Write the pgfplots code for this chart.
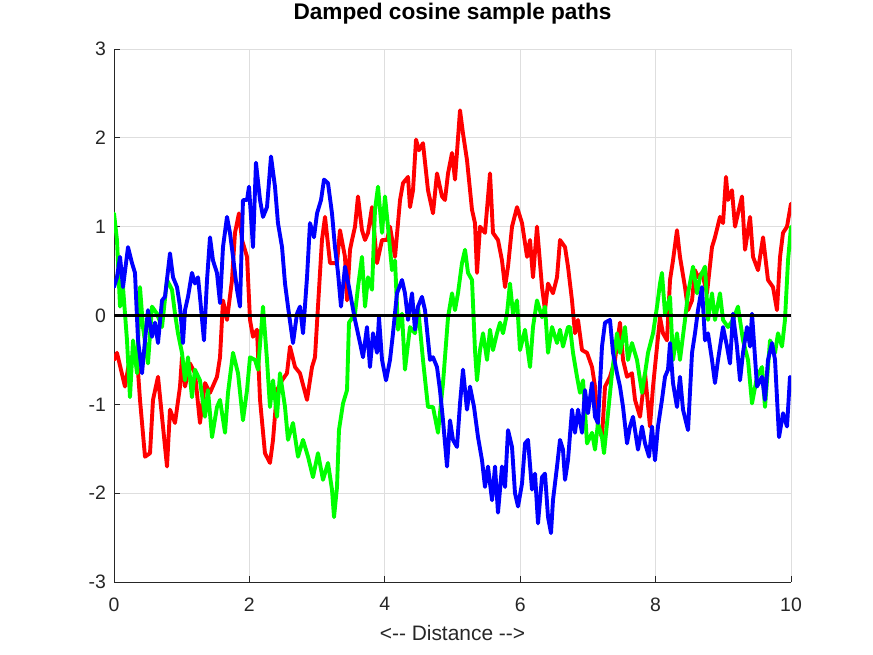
\documentclass[border=0pt]{standalone}
\usepackage{pgfplots}
\pgfplotsset{compat=1.18}
\usepackage{fontspec}
\setmainfont{Liberation Sans}
\definecolor{axgray}{RGB}{38,38,38}
\definecolor{gridgray}{RGB}{222,222,222}
\begin{document}
\begin{tikzpicture}
\path[use as bounding box] (-114bp,-73bp) rectangle (759bp,582bp);
\begin{axis}[
  at={(0,0)}, anchor=south west,
  scale only axis, width=677bp, height=533bp,
  xmin=0, xmax=10, ymin=-3, ymax=3,
  xtick={0,2,4,6,8,10}, ytick={-3,-2,-1,0,1,2,3},
  axis x line*=bottom, axis y line*=left,
  axis line style={axgray, line width=0.8pt},
  tick align=inside, major tick length=6bp,
  tick style={axgray, line width=0.8pt},
  grid=major, major grid style={gridgray, line width=0.8pt},
  /pgf/number format/assume math mode=true,
  ticklabel style={font=\fontsize{19.5}{23}\selectfont, text=axgray},
  xticklabel style={yshift=-12bp},
  yticklabel style={xshift=-4.5bp},
  title={Damped cosine sample paths},
  title style={font=\bfseries\fontsize{22.7}{26}\selectfont, at={(0.5,1)}, anchor=base, yshift=24bp},
  xlabel={<\mbox{-}\mbox{-} Distance \mbox{-}\mbox{-}>},
  xlabel style={font=\fontsize{21}{25}\selectfont, text=axgray, at={(0.5,0)}, anchor=base, yshift=-58bp},
  every axis plot/.append style={line width=3.9pt, line join=round, line cap=round},
]
\addplot[red] coordinates {
(0,-0.50)(0.044,-0.42)(0.162,-0.80)(0.236,-0.47)(0.340,-0.47)(0.384,-0.95)(0.458,-1.59)(0.532,-1.55)(0.576,-0.95)(0.650,-0.69)
(0.709,-1.14)(0.783,-1.70)(0.827,-1.06)(0.901,-1.21)(0.975,-0.80)(1.004,-0.47)(1.049,-0.80)(1.123,-0.54)(1.196,-0.65)(1.270,-1.21)
(1.344,-0.76)(1.418,-0.87)(1.521,-0.69)(1.566,-0.47)(1.610,0.17)(1.669,-0.05)(1.743,0.40)(1.787,0.93)(1.846,1.15)(1.891,0.85)
(1.965,0.66)(2.009,-0.05)(2.053,-0.24)(2.112,-0.16)(2.157,-0.95)(2.230,-1.55)(2.304,-1.66)(2.349,-1.40)(2.408,-0.84)(2.482,-0.73)
(2.555,-0.65)(2.600,-0.35)(2.674,-0.58)(2.747,-0.65)(2.851,-0.95)(2.925,-0.58)(2.969,-0.47)(3.013,0.10)(3.072,0.85)(3.117,1.11)
(3.191,0.59)(3.294,0.59)(3.338,0.96)(3.412,0.66)(3.442,0.17)(3.486,0.74)(3.516,0.85)(3.560,1.00)(3.604,1.34)(3.663,0.96)
(3.708,0.85)(3.752,0.93)(3.811,1.22)(3.885,0.59)(3.959,0.85)(4.033,0.85)(4.077,1.00)(4.151,0.66)(4.225,1.30)(4.269,1.49)
(4.343,1.56)(4.372,1.22)(4.417,1.41)(4.461,1.98)(4.505,1.86)(4.564,1.94)(4.638,1.41)(4.712,1.15)(4.771,1.60)(4.845,1.34)
(4.889,1.30)(4.934,1.60)(4.993,1.83)(5.037,1.53)(5.111,2.31)(5.155,2.05)(5.214,1.75)(5.288,1.19)(5.332,1.04)(5.362,0.48)
(5.406,1.00)(5.480,0.93)(5.554,1.60)(5.598,0.93)(5.672,0.85)(5.731,0.62)(5.776,0.32)(5.820,0.55)(5.879,1.00)(5.953,1.22)
(6.027,1.04)(6.101,0.66)(6.145,0.85)(6.189,0.43)(6.248,1.00)(6.322,0.32)(6.366,0.06)(6.411,0.36)(6.484,0.25)(6.544,0.43)
(6.588,0.85)(6.662,0.77)(6.706,0.55)(6.765,0.17)(6.809,-0.20)(6.854,-0.05)(6.913,-0.39)(6.987,-0.42)(7.061,-0.58)(7.105,-0.80)
(7.149,-1.25)(7.208,-1.37)(7.253,-0.80)(7.326,-0.69)(7.400,-0.50)(7.474,-0.08)(7.519,-0.50)(7.578,-0.69)(7.651,-0.65)(7.696,-0.95)
(7.770,-1.14)(7.844,-0.65)(7.917,-1.25)(7.962,-0.80)(8.021,-0.35)(8.065,-0.02)(8.109,-0.20)(8.168,-0.28)(8.213,0.40)(8.257,0.62)
(8.316,0.96)(8.360,0.66)(8.434,0.32)(8.479,0.06)(8.538,0.17)(8.582,0.51)(8.626,0.43)(8.685,0.48)(8.759,0.25)(8.833,0.77)
(8.877,0.88)(8.951,1.11)(8.996,1.04)(9.040,1.56)(9.069,1.30)(9.128,1.41)(9.173,1.00)(9.217,1.15)(9.276,1.34)(9.321,0.74)
(9.395,1.11)(9.439,0.66)(9.513,0.51)(9.587,0.88)(9.660,0.40)(9.734,0.32)(9.793,0.06)(9.838,0.66)(9.882,0.93)(9.941,1.00)
(10,1.26)};
\addplot[green] coordinates {
(0,1.15)(0.044,0.85)(0.089,0.10)(0.133,0.32)(0.192,-0.28)(0.236,-0.92)(0.281,-0.28)(0.340,-0.65)(0.384,0.32)(0.428,-0.13)
(0.502,-0.54)(0.561,0.10)(0.635,0.02)(0.709,-0.13)(0.783,0.40)(0.857,0.29)(0.901,0.02)(0.945,-0.20)(1.004,-0.42)(1.049,-0.73)
(1.093,-0.47)(1.152,-0.92)(1.196,-0.61)(1.270,-0.73)(1.344,-1.14)(1.388,-0.84)(1.448,-1.37)(1.521,-1.03)(1.566,-0.95)(1.640,-1.32)
(1.684,-0.87)(1.758,-0.42)(1.832,-0.65)(1.905,-1.18)(1.965,-0.84)(2.009,-0.47)(2.083,-0.50)(2.127,-0.61)(2.201,0.10)(2.260,-0.50)
(2.304,-1.03)(2.349,-0.73)(2.408,-1.14)(2.452,-0.65)(2.526,-1.03)(2.570,-1.40)(2.644,-1.21)(2.718,-1.59)(2.792,-1.40)(2.866,-1.59)
(2.939,-1.82)(3.013,-1.55)(3.087,-1.85)(3.161,-1.66)(3.220,-1.96)(3.250,-2.27)(3.294,-1.93)(3.323,-1.29)(3.383,-0.99)(3.442,-0.84)
(3.471,-0.08)(3.560,0.02)(3.604,0.32)(3.663,0.66)(3.708,0.10)(3.752,0.43)(3.811,0.29)(3.855,1.19)(3.900,1.45)(3.959,0.93)
(4.003,1.34)(4.047,1.00)(4.106,0.51)(4.151,0.62)(4.195,-0.16)(4.254,0.02)(4.298,-0.61)(4.372,-0.13)(4.446,-0.20)(4.490,0.10)
(4.564,-0.50)(4.638,-1.03)(4.712,-1.03)(4.786,-1.32)(4.860,-0.76)(4.934,-0.02)(4.993,0.25)(5.037,0.06)(5.081,0.25)(5.140,0.59)
(5.185,0.74)(5.229,0.48)(5.288,0.40)(5.332,-0.39)(5.362,-0.73)(5.406,-0.39)(5.451,-0.20)(5.510,-0.50)(5.554,-0.16)(5.598,-0.39)
(5.657,-0.20)(5.702,-0.08)(5.746,-0.20)(5.805,0.02)(5.849,0.36)(5.894,0.02)(5.953,0.17)(5.997,-0.39)(6.071,-0.16)(6.145,-0.58)
(6.189,-0.13)(6.248,0.17)(6.322,-0.02)(6.366,0.10)(6.411,-0.42)(6.470,-0.13)(6.544,-0.31)(6.588,-0.16)(6.632,-0.35)(6.706,-0.13)
(6.736,-0.13)(6.780,-0.42)(6.839,-0.69)(6.883,-0.87)(6.928,-0.73)(6.987,-1.44)(7.061,-1.32)(7.105,-1.51)(7.149,-1.21)(7.208,-1.37)
(7.238,-1.55)(7.297,-1.10)(7.356,-0.65)(7.430,-0.20)(7.474,-0.42)(7.548,-0.13)(7.592,-0.50)(7.651,-0.31)(7.725,-0.50)(7.799,-0.87)
(7.844,-0.65)(7.888,-0.42)(7.962,-0.20)(8.021,0.10)(8.065,0.36)(8.094,0.48)(8.139,0.02)(8.213,0.21)(8.257,-0.50)(8.316,-0.20)
(8.360,-0.50)(8.434,-0.05)(8.479,0.25)(8.553,0.55)(8.612,0.25)(8.656,0.43)(8.730,0.55)(8.774,-0.05)(8.833,0.25)(8.877,-0.05)
(8.951,0.25)(8.996,-0.05)(9.069,-0.13)(9.143,-0.05)(9.217,0.10)(9.291,-0.28)(9.365,-0.50)(9.424,-0.99)(9.498,-0.69)(9.572,-0.58)
(9.616,-1.03)(9.690,-0.28)(9.764,-0.42)(9.808,-0.20)(9.867,-0.35)(9.911,-0.05)(9.956,0.62)(10,1.00)};
\addplot[blue] coordinates {
(0,0.32)(0.044,0.43)(0.089,0.66)(0.133,0.32)(0.207,0.77)(0.266,0.59)(0.310,0.48)(0.355,-0.28)(0.414,-0.65)(0.458,-0.28)
(0.502,0.06)(0.561,-0.24)(0.606,-0.08)(0.650,-0.31)(0.709,0.17)(0.753,0.21)(0.827,0.70)(0.872,0.43)(0.931,0.32)(0.975,0.10)
(1.019,-0.31)(1.049,0.06)(1.093,0.21)(1.152,0.48)(1.196,0.36)(1.241,0.43)(1.270,0.21)(1.329,-0.28)(1.374,0.40)(1.418,0.88)
(1.462,0.62)(1.521,0.48)(1.566,0.14)(1.610,0.77)(1.669,1.11)(1.713,0.93)(1.758,0.66)(1.817,0.29)(1.861,0.10)(1.905,1.30)
(1.965,1.30)(1.994,1.45)(2.053,0.77)(2.097,1.72)(2.157,1.30)(2.201,1.11)(2.260,1.22)(2.319,1.79)(2.378,1.45)(2.422,1.04)
(2.482,0.77)(2.526,0.36)(2.570,0.10)(2.644,-0.31)(2.703,0.02)(2.747,0.10)(2.792,-0.20)(2.851,0.43)(2.895,1.04)(2.954,0.88)
(2.999,1.15)(3.058,1.30)(3.102,1.53)(3.161,1.49)(3.220,1.15)(3.264,0.77)(3.309,0.48)(3.353,0.10)(3.412,0.55)(3.471,0.32)
(3.560,-0.05)(3.634,-0.31)(3.678,-0.47)(3.737,-0.13)(3.781,-0.58)(3.826,-0.20)(3.885,-0.42)(3.914,-0.02)(3.959,-0.50)(4.018,-0.73)
(4.077,-0.50)(4.121,-0.20)(4.180,0.25)(4.254,0.40)(4.298,0.25)(4.343,-0.05)(4.402,0.25)(4.446,-0.16)(4.490,0.10)(4.549,0.21)
(4.594,0.06)(4.668,-0.50)(4.712,-0.47)(4.771,-0.58)(4.815,-0.84)(4.860,-1.18)(4.919,-1.70)(4.963,-1.18)(5.007,-1.40)(5.066,-1.48)
(5.111,-0.99)(5.155,-0.61)(5.214,-1.06)(5.259,-0.80)(5.318,-1.03)(5.377,-1.37)(5.436,-1.63)(5.480,-1.93)(5.524,-1.70)(5.584,-2.08)
(5.628,-1.70)(5.672,-2.22)(5.731,-1.70)(5.776,-1.93)(5.820,-1.29)(5.879,-1.48)(5.923,-2.00)(5.968,-2.15)(6.027,-1.89)(6.071,-1.44)
(6.115,-1.40)(6.174,-1.96)(6.219,-1.78)(6.263,-2.34)(6.322,-1.82)(6.366,-1.78)(6.411,-2.27)(6.455,-2.45)(6.484,-2.08)(6.544,-1.70)
(6.588,-1.40)(6.632,-1.51)(6.662,-1.85)(6.706,-1.63)(6.765,-1.06)(6.809,-1.32)(6.854,-1.06)(6.913,-1.32)(6.957,-0.84)(7.001,-1.10)
(7.061,-0.76)(7.105,-1.14)(7.149,-1.21)(7.208,-0.35)(7.253,-0.08)(7.326,-0.05)(7.371,-0.42)(7.430,-0.65)(7.474,-0.80)(7.519,-1.03)
(7.578,-1.44)(7.622,-1.25)(7.666,-1.14)(7.740,-1.51)(7.799,-1.25)(7.844,-1.44)(7.903,-1.59)(7.947,-1.25)(7.991,-1.63)(8.035,-1.25)
(8.094,-0.95)(8.139,-0.69)(8.183,-0.61)(8.213,-0.31)(8.257,-0.76)(8.316,-1.03)(8.360,-0.69)(8.405,-1.06)(8.479,-1.29)(8.538,-0.42)
(8.582,-0.20)(8.626,0.06)(8.685,0.32)(8.730,-0.28)(8.774,-0.20)(8.833,-0.50)(8.877,-0.76)(8.922,-0.50)(8.996,-0.13)(9.055,-0.35)
(9.099,-0.54)(9.143,0.02)(9.202,-0.35)(9.247,-0.73)(9.291,-0.42)(9.350,-0.13)(9.395,-0.35)(9.424,0.02)(9.498,-0.80)(9.572,-0.69)
(9.616,-0.95)(9.660,-0.50)(9.720,-0.31)(9.764,-0.50)(9.823,-1.37)(9.882,-1.10)(9.941,-1.25)(9.985,-0.69)(10,-0.80)};
\addplot[black, line width=3.9pt, line cap=butt] coordinates {(0,0)(10,0)};
\end{axis}
\end{tikzpicture}
\end{document}
